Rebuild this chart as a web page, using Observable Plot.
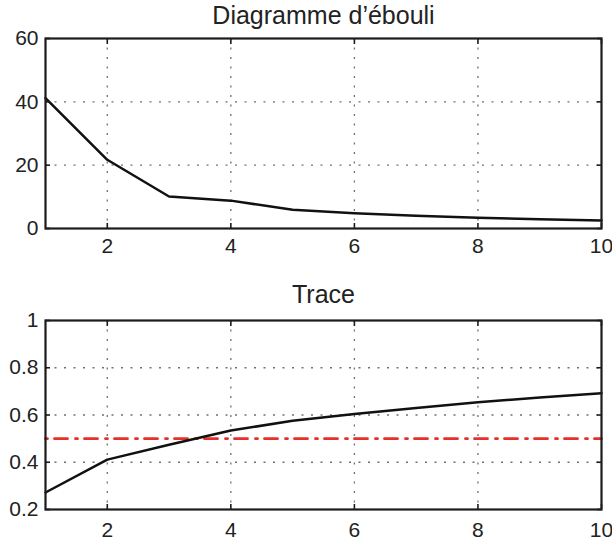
<!DOCTYPE html>
<html>
<head>
<meta charset="utf-8">
<script src="https://cdn.jsdelivr.net/npm/d3@7"></script>
<script src="https://cdn.jsdelivr.net/npm/@observablehq/plot@0.6"></script>
<style>
  body { margin: 0; background: #fff; }
  #c svg { display: block; }
</style>
</head>
<body>
<div id="c"></div>
<script>
// ---- data ----
const components = [1, 2, 3, 4, 5, 6, 7, 8, 9, 10];
const eigenvalues = [41.2, 21.7, 10.1, 8.8, 5.9, 4.8, 4.0, 3.4, 2.9, 2.5];
const traceRatio = [0.272, 0.411, 0.474, 0.534, 0.576, 0.604, 0.630, 0.654, 0.674, 0.692];
const thresholdX = [1, 10];
const thresholdY = [0.5, 0.5];

const title1 = "Diagramme d\u2019ébouli";
const title2 = "Trace";

const xTicks = [2, 4, 6, 8, 10];
const xGrid = [2, 4, 6, 8];
const yTicks1 = [0, 20, 40, 60];
const yGrid1 = [20, 40];
const yTicks2 = [0.2, 0.4, 0.6, 0.8, 1];
const yGrid2 = [0.4, 0.6, 0.8];

const font = "'Liberation Sans', Arial, Helvetica, sans-serif";
const ink = "#1c1c1c";
const gridStyle = {stroke: "#707070", strokeOpacity: 1, strokeWidth: 1.3, strokeDasharray: "2,7.5"};

function panel({title, xs, ys, yDomain, yTicks, yGrid, top, bottom, xPad, titleDy, extra = []}) {
  const data = xs.map((x, i) => ({x, y: ys[i]}));
  return Plot.plot({
    width: 612,
    height: 271,
    marginLeft: 45,
    marginRight: 11,
    marginTop: top,
    marginBottom: bottom,
    style: {fontFamily: font, color: ink, background: "#fff", overflow: "visible"},
    x: {domain: [1, 10], label: null},
    y: {domain: yDomain, label: null},
    marks: [
      Plot.gridX(xGrid, gridStyle),
      Plot.gridY(yGrid, gridStyle),
      ...extra,
      Plot.line(data, {x: "x", y: "y", stroke: "#111", strokeWidth: 2.5}),
      Plot.frame({stroke: ink, strokeWidth: 2.2}),
      Plot.axisX(xTicks, {anchor: "bottom", tickSize: -5, tickPadding: xPad, fontSize: 21, fill: "#222", strokeWidth: 1.6, tickFormat: d => String(d), label: null}),
      Plot.axisX(xTicks, {anchor: "top", tickSize: -5, tickFormat: () => "", strokeWidth: 1.6, label: null}),
      Plot.axisY(yTicks, {anchor: "left", tickSize: -5, tickPadding: 12, fontSize: 21, fill: "#222", strokeWidth: 1.6, tickFormat: d => String(d), label: null}),
      Plot.axisY(yTicks, {anchor: "right", tickSize: -5, tickFormat: () => "", strokeWidth: 1.6, label: null}),
      Plot.text([title], {frameAnchor: "top", text: d => d, lineAnchor: "bottom", dy: titleDy, fontSize: 25, fill: "#222"})
    ]
  });
}

const c = document.getElementById("c");
c.append(panel({
  title: title1, xs: components, ys: eigenvalues, yDomain: [0, 60],
  yTicks: yTicks1, yGrid: yGrid1, top: 38, bottom: 43, xPad: 15, titleDy: -15
}));

const threshold = thresholdX.map((x, i) => ({x, y: thresholdY[i]}));
c.append(panel({
  title: title2, xs: components, ys: traceRatio, yDomain: [0.2, 1],
  yTicks: yTicks2, yGrid: yGrid2, top: 49, bottom: 33, xPad: 18, titleDy: -18,
  extra: [Plot.line(threshold, {x: "x", y: "y", stroke: "#e5302b", strokeWidth: 2.8, strokeDasharray: "13,8,2,7", strokeDashoffset: 21})]
}));
</script>
</body>
</html>
